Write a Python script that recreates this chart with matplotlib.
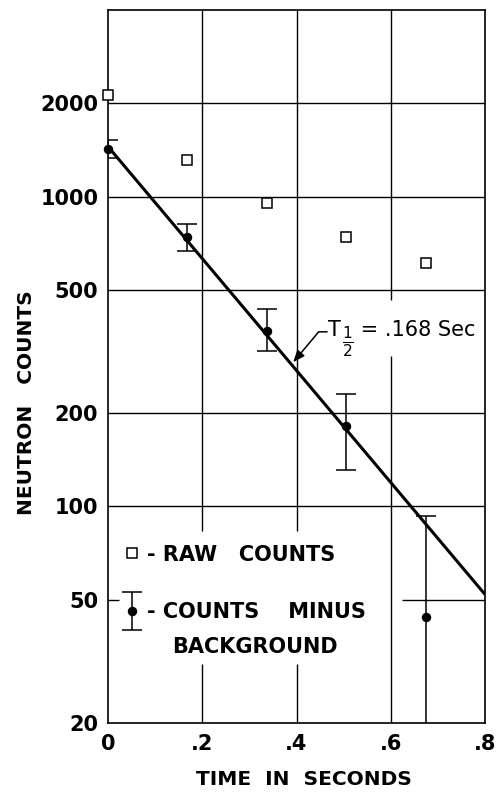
import matplotlib
matplotlib.use('Agg')
import matplotlib.pyplot as plt
import numpy as np
from matplotlib.ticker import NullLocator
from matplotlib.legend_handler import HandlerErrorbar
from matplotlib.container import ErrorbarContainer

# ---- data ----
time_s = [0.0, 0.168, 0.337, 0.504, 0.674]
raw_counts = [2120, 1310, 950, 742, 611]
net_counts = [1420, 742, 369, 182, 44]
net_err_hi = [1518, 818, 433, 231, 93]
net_err_lo = [1336, 668, 318, 131, 10]
fit_time = [0.0, 0.8]
fit_counts = [1450, 52]
x_ticks = [0, 0.2, 0.4, 0.6, 0.8]
x_tick_labels = ['0', '.2', '.4', '.6', '.8']
y_ticks = [20, 50, 100, 200, 500, 1000, 2000]
y_tick_labels = ['20', '50', '100', '200', '500', '1000', '2000']

plt.rcParams['font.family'] = ['DejaVu Sans']
plt.rcParams['mathtext.fontset'] = 'dejavusans'

fig = plt.figure(figsize=(4.97, 7.94), dpi=100)
ax = fig.add_axes([108/497, 71/794, 377/497, 713/794])
ax.set_yscale('log')
ax.set_xlim(0, 0.8)
ax.set_ylim(20, 4000)

# grid (with the gaps left around the legend and the annotation)
gc = dict(color='black', lw=1.0, zorder=1)
for yv in [100, 200, 500, 1000, 2000]:
    ax.axhline(yv, **gc)
ax.hlines(50, 0.624, 0.8, **gc)
ax.hlines(50, 0.0, 0.024, **gc)
ax.vlines([0.2, 0.4], 20, 31, **gc)
ax.vlines([0.2, 0.4], 83, 4000, **gc)
ax.vlines(0.6, 20, 305, **gc)
ax.vlines(0.6, 465, 4000, **gc)

# fit line
ax.plot(fit_time, fit_counts, color='black', lw=2.2, zorder=3, solid_capstyle='butt')

# raw counts
sq, = ax.plot(time_s, raw_counts, 's', mfc='white', mec='black', ms=7, mew=1.1,
              zorder=4, clip_on=False)

# counts minus background
net = np.array(net_counts, dtype=float)
yerr = [net - np.array(net_err_lo), np.array(net_err_hi) - net]
eb = ax.errorbar(time_s, net_counts, yerr=yerr, fmt='o', color='black', ms=5.8,
                 capsize=7, elinewidth=1.1, capthick=1.1, zorder=4)
eb[0].set_clip_on(False)

# annotation: arrow + "T 1/2 = .168 Sec"
ax.annotate('', xy=(0.393, 292), xytext=(0.465, 366),
            arrowprops=dict(arrowstyle='-|>,head_length=0.5,head_width=0.2',
                            connectionstyle='angle,angleA=0,angleB=50,rad=0',
                            color='black', lw=1.1, shrinkA=0, shrinkB=0,
                            mutation_scale=14))
t_main = ax.text(0.467, 354, 'T', ha='left', va='baseline', fontsize=15)
t_frac = ax.annotate(r'$\frac{1}{2}$', xy=(1, 0), xycoords=t_main,
                     xytext=(0.5, -1.0), textcoords='offset points',
                     ha='left', va='center', fontsize=16)
t_rest = ax.annotate(' = .168 Sec', xy=(1, 0), xycoords=(t_frac, t_main),
                     xytext=(0, 0), textcoords='offset points',
                     ha='left', va='bottom', fontsize=15)

# legend
leg = ax.legend([sq, eb], ['- RAW   COUNTS', '- COUNTS    MINUS'],
                loc='upper left', bbox_to_anchor=(0.037, 0.250),
                frameon=False, prop=dict(weight='bold', size=15),
                handlelength=1.0, handletextpad=0.2, labelspacing=1.8,
                borderpad=0, borderaxespad=0,
                handler_map={ErrorbarContainer: HandlerErrorbar(yerr_size=0.92)})
ax.text(0.170, 0.1066, 'BACKGROUND', transform=ax.transAxes, ha='left',
        va='center', fontsize=15, fontweight='bold')

# ticks
ax.set_xticks(x_ticks, x_tick_labels)
ax.set_yticks(y_ticks, y_tick_labels)
ax.yaxis.set_minor_locator(NullLocator())
ax.tick_params(length=0, labelsize=15)
ax.tick_params(axis='y', pad=7)
ax.tick_params(axis='x', pad=8)
for lbl in ax.get_xticklabels() + ax.get_yticklabels():
    lbl.set_fontweight('bold')

for s in ax.spines.values():
    s.set_linewidth(1.2)

ax.set_xlabel('TIME  IN  SECONDS', fontsize=14.5, fontweight='bold')
ax.xaxis.set_label_coords(0.52, -0.066)
ax.set_ylabel('NEUTRON   COUNTS', fontsize=14.5, fontweight='bold')
ax.yaxis.set_label_coords(-0.19, 0.449)

fig.savefig('out.png', dpi=100)
